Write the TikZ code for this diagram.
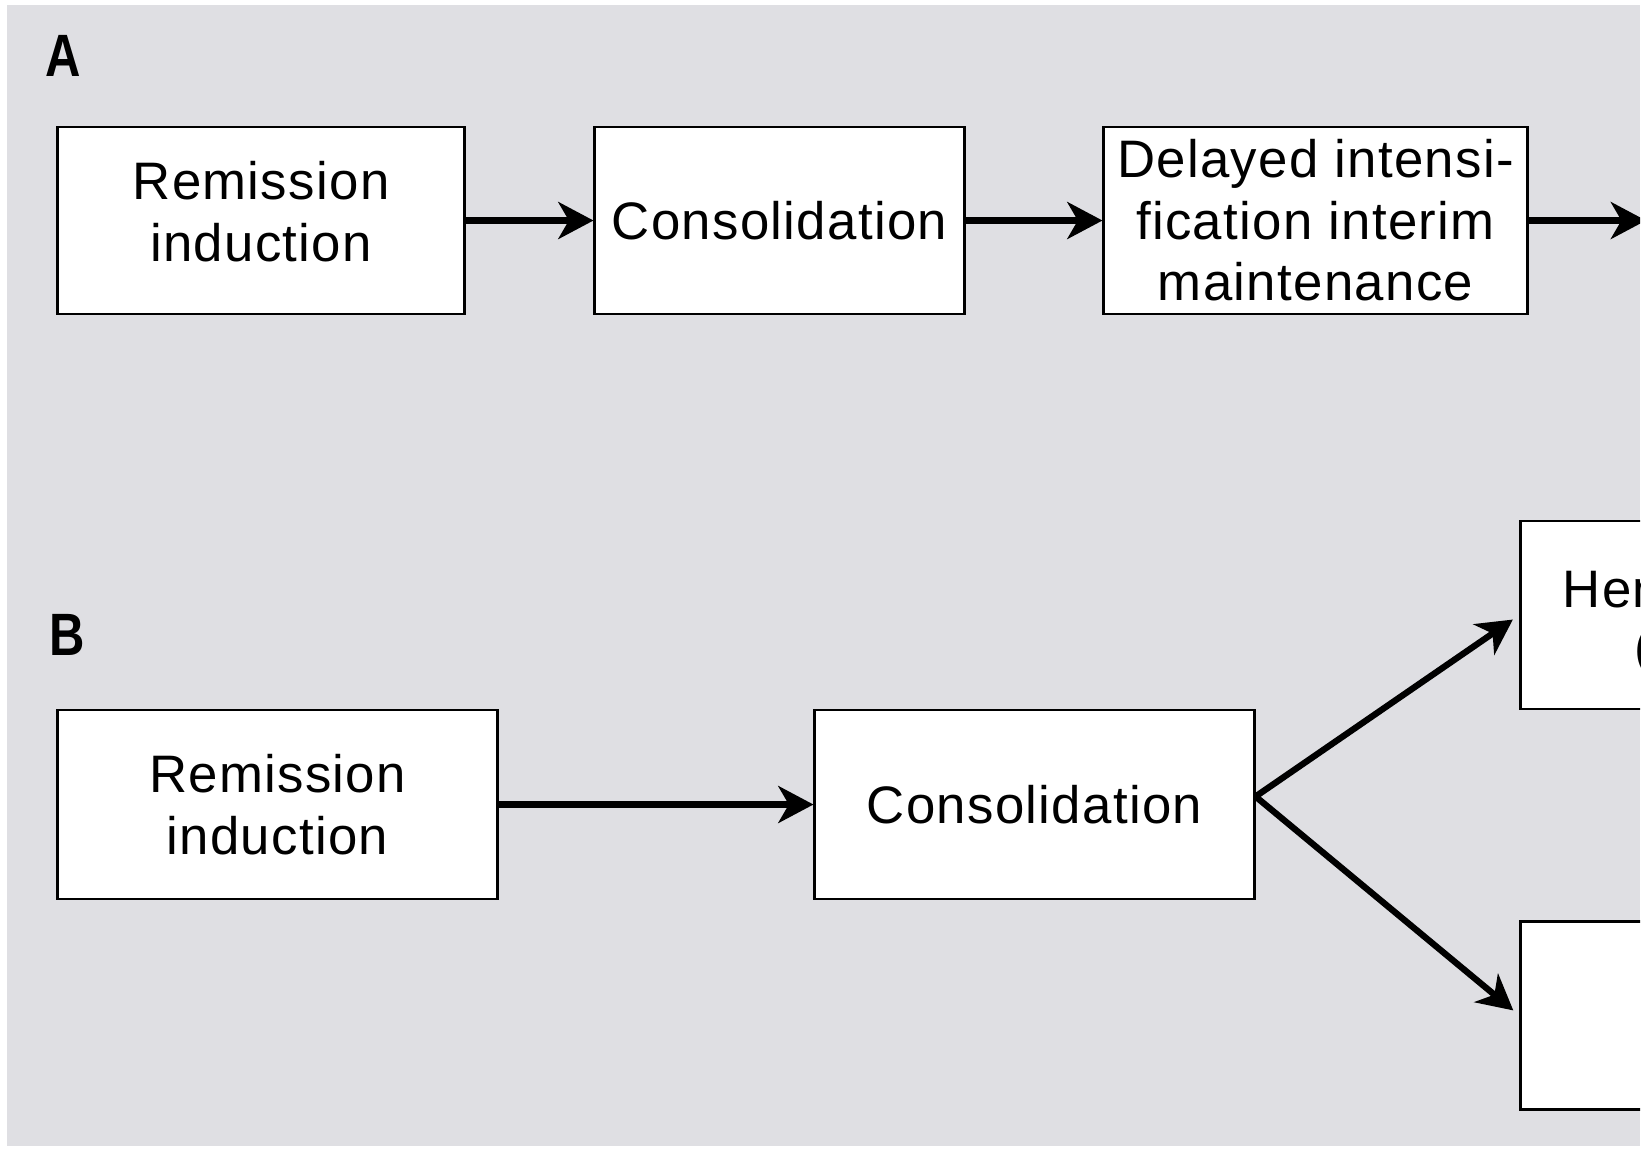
\documentclass[tikz,border=0pt]{standalone}
\usepackage{fontspec}
\setmainfont{Liberation Sans}[LetterSpace=2.5]
\usepackage{tikz}
\usetikzlibrary{arrows.meta}
\definecolor{panelgray}{RGB}{223,223,227}

\begin{document}
\begin{tikzpicture}[x=0.01cm, y=-0.01cm,
  stage/.style={draw, line width=0.8pt, fill=white, align=center, inner sep=1pt,
    font=\fontsize{15}{17.5}\selectfont},
  flow/.style={line width=1.8pt, -{Stealth[length=10pt, width=10.5pt, inset=3pt]}},
  panel/.style={font=\fontsize{17}{17}\selectfont\bfseries, inner sep=0pt, anchor=base west},
  frag/.style={font=\fontsize{15}{17.5}\selectfont, inner sep=0pt}]
  \useasboundingbox (0,0) rectangle (1648,1150);
  \fill[white] (0,0) rectangle (1648,1150);
  \clip (0,0) rectangle (1640,1146);
  \fill[panelgray] (7,5) rectangle (1640,1146);
  % panel A
  \node[panel] (la) at (45,76) {\scalebox{0.82}[1]{A}};
  \node[stage, minimum width=4.06cm, minimum height=1.87cm, text depth=0.18cm] (a1) at (261,220.5) {Remission\\induction};
  \node[stage, minimum width=3.69cm, minimum height=1.87cm] (a2) at (779.5,220.5) {Consolidation};
  \node[stage, minimum width=4.23cm, minimum height=1.87cm] (a3) at (1315.5,220.5) {Delayed intensi-\\fication interim\\maintenance};
  \coordinate (aout) at (1646,220.5);
  % panel B
  \node[panel] (lb) at (49,655) {\scalebox{0.82}[1]{B}};
  \node[stage, minimum width=4.39cm, minimum height=1.89cm] (b1) at (277.5,804.5) {Remission\\induction};
  \node[stage, minimum width=4.39cm, minimum height=1.89cm] (b2) at (1034.5,804.5) {Consolidation};
  \node[stage, minimum width=4.39cm, minimum height=1.88cm] (b3) at (1740.5,615) {};
  \node[stage, minimum width=4.39cm, minimum height=1.88cm] (b4) at (1740.5,1015.5) {};
  \node[frag, anchor=base west] (b3top) at (1562,607) {Hem};
  \node[frag, anchor=base west] (b3bot) at (1634,665) {(};
  \coordinate (bfork) at ([yshift=0.08cm]b2.east);
  \path[flow]
  (a1) edge (a2)
  (a2) edge (a3)
  (a3) edge (aout)
  (b1) edge (b2)
  ;
  \path[flow, shorten >=0.08cm]
  (bfork) edge (b3.west)
  (bfork) edge (b4.west)
  ;
\end{tikzpicture}
\end{document}
